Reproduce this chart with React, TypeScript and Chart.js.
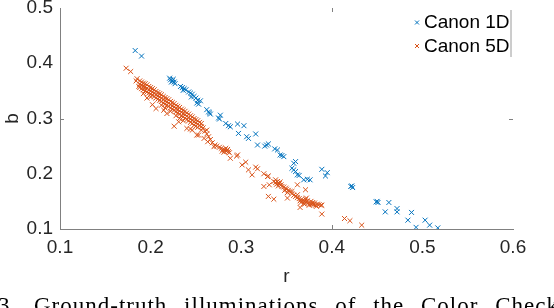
import React, { useEffect, useRef } from "react";
import { Chart, registerables } from "chart.js";

Chart.register(...registerables);

// ---- data (r, b) ----
const canon1D: number[][] = [
  [0.183, 0.423], [0.190, 0.413],
  [0.221, 0.373], [0.222, 0.370], [0.224, 0.368], [0.223, 0.366], [0.226, 0.366], [0.225, 0.371], [0.227, 0.363],
  [0.233, 0.358], [0.235, 0.356], [0.237, 0.354], [0.236, 0.351], [0.239, 0.352], [0.242, 0.348], [0.244, 0.346],
  [0.246, 0.344], [0.248, 0.340], [0.250, 0.337], [0.245, 0.339], [0.252, 0.333], [0.255, 0.332], [0.251, 0.328], [0.253, 0.326],
  [0.262, 0.316], [0.264, 0.312], [0.266, 0.308], [0.265, 0.310],
  [0.277, 0.306], [0.276, 0.299], [0.275, 0.301], [0.283, 0.291], [0.288, 0.285], [0.286, 0.287], [0.296, 0.290],
  [0.303, 0.287], [0.297, 0.273], [0.306, 0.267], [0.308, 0.264], [0.316, 0.272], [0.318, 0.252],
  [0.328, 0.252], [0.330, 0.254], [0.326, 0.250], [0.340, 0.243], [0.337, 0.245], [0.343, 0.234], [0.347, 0.231], [0.345, 0.233],
  [0.360, 0.222], [0.358, 0.219], [0.356, 0.210], [0.358, 0.207], [0.360, 0.204], [0.362, 0.198], [0.364, 0.197],
  [0.369, 0.189], [0.373, 0.190], [0.376, 0.189], [0.389, 0.208], [0.395, 0.202], [0.393, 0.196],
  [0.422, 0.178], [0.423, 0.175], [0.421, 0.177],
  [0.450, 0.150], [0.449, 0.149], [0.451, 0.148], [0.463, 0.148], [0.459, 0.131], [0.472, 0.137], [0.472, 0.131],
  [0.488, 0.130], [0.484, 0.116], [0.493, 0.103], [0.503, 0.116], [0.508, 0.107], [0.517, 0.102],
];

const canon5DHead: number[][] = [
  [0.173, 0.391], [0.178, 0.385], [0.185, 0.372], [0.187, 0.358], [0.184, 0.368],
];

const canon5DBand: number[][] = [
  [0.188, 0.368], [0.188, 0.362], [0.188, 0.356],
  [0.190, 0.366], [0.190, 0.360], [0.190, 0.354],
  [0.192, 0.364], [0.192, 0.358], [0.192, 0.352], [0.192, 0.345],
  [0.194, 0.363], [0.194, 0.357], [0.194, 0.350],
  [0.196, 0.361], [0.196, 0.355], [0.196, 0.348], [0.196, 0.337],
  [0.198, 0.358], [0.198, 0.352], [0.198, 0.346],
  [0.200, 0.356], [0.200, 0.350], [0.200, 0.344], [0.200, 0.339],
  [0.202, 0.354], [0.202, 0.348], [0.202, 0.342], [0.202, 0.325],
  [0.204, 0.352], [0.204, 0.346], [0.204, 0.340],
  [0.206, 0.349], [0.206, 0.343], [0.206, 0.337], [0.206, 0.318],
  [0.208, 0.347], [0.208, 0.341], [0.208, 0.335],
  [0.210, 0.345], [0.210, 0.339], [0.210, 0.333],
  [0.212, 0.343], [0.212, 0.337], [0.212, 0.331], [0.212, 0.324],
  [0.214, 0.340], [0.214, 0.334], [0.214, 0.328], [0.2145, 0.315],
  [0.216, 0.338], [0.216, 0.332], [0.216, 0.326], [0.216, 0.319],
  [0.218, 0.336], [0.218, 0.330], [0.218, 0.324], [0.218, 0.309],
  [0.220, 0.334], [0.220, 0.328], [0.220, 0.322],
  [0.222, 0.331], [0.222, 0.325], [0.222, 0.319], [0.222, 0.313],
  [0.224, 0.329], [0.224, 0.323], [0.224, 0.317],
  [0.226, 0.327], [0.226, 0.321], [0.226, 0.315], [0.226, 0.286],
  [0.228, 0.324], [0.228, 0.318], [0.228, 0.312], [0.228, 0.305],
  [0.230, 0.322], [0.230, 0.316], [0.230, 0.310], [0.231, 0.294],
  [0.232, 0.320], [0.232, 0.314], [0.232, 0.308], [0.232, 0.300],
  [0.234, 0.317], [0.234, 0.311], [0.234, 0.305],
  [0.236, 0.315], [0.236, 0.309], [0.236, 0.303], [0.236, 0.296],
  [0.238, 0.313], [0.238, 0.307], [0.238, 0.301],
  [0.240, 0.310], [0.240, 0.304], [0.240, 0.298], [0.240, 0.282],
  [0.242, 0.308], [0.242, 0.302], [0.242, 0.296],
  [0.244, 0.305], [0.244, 0.299], [0.244, 0.293], [0.244, 0.281], [0.246, 0.279],
  [0.246, 0.303], [0.246, 0.297], [0.246, 0.291],
  [0.248, 0.300], [0.248, 0.294], [0.248, 0.288],
  [0.250, 0.298], [0.250, 0.292], [0.250, 0.286], [0.251, 0.270],
  [0.252, 0.296], [0.252, 0.290], [0.252, 0.284],
  [0.254, 0.293], [0.254, 0.287], [0.253, 0.270],
  [0.256, 0.291], [0.256, 0.285], [0.256, 0.279],
];

const canon5DMid: number[][] = [
  [0.258, 0.283], [0.260, 0.277], [0.262, 0.279], [0.262, 0.272], [0.264, 0.267], [0.263, 0.258], [0.259, 0.264],
  [0.266, 0.262], [0.268, 0.256], [0.270, 0.249], [0.271, 0.252], [0.273, 0.250],
  [0.276, 0.248], [0.278, 0.246], [0.280, 0.244], [0.282, 0.243], [0.284, 0.241], [0.286, 0.240],
  [0.279, 0.241], [0.283, 0.246], [0.287, 0.238], [0.281, 0.239], [0.285, 0.244],
  [0.296, 0.234], [0.288, 0.228], [0.295, 0.232],
  [0.301, 0.216], [0.305, 0.221], [0.308, 0.207], [0.312, 0.198], [0.316, 0.212], [0.318, 0.209],
  [0.325, 0.200], [0.329, 0.195], [0.330, 0.196], [0.325, 0.177], [0.331, 0.180], [0.330, 0.159], [0.336, 0.154],
  [0.338, 0.189], [0.341, 0.183],
  [0.336, 0.186], [0.338, 0.184], [0.340, 0.186], [0.342, 0.182], [0.344, 0.180], [0.339, 0.181],
  [0.341, 0.178], [0.343, 0.185], [0.345, 0.177],
  [0.349, 0.174], [0.351, 0.156], [0.356, 0.168], [0.362, 0.180], [0.362, 0.162], [0.371, 0.171],
  [0.347, 0.176], [0.350, 0.172], [0.352, 0.170], [0.354, 0.168], [0.348, 0.170], [0.351, 0.166],
  [0.356, 0.164], [0.358, 0.161], [0.360, 0.159],
];

const canon5DTail: number[][] = [
  [0.362, 0.157], [0.364, 0.155], [0.366, 0.153], [0.368, 0.152], [0.370, 0.150], [0.372, 0.149],
  [0.374, 0.147], [0.376, 0.146], [0.378, 0.145], [0.380, 0.144], [0.382, 0.143], [0.366, 0.148],
  [0.369, 0.146], [0.371, 0.154], [0.373, 0.151], [0.375, 0.143], [0.377, 0.150], [0.379, 0.148],
  [0.381, 0.147], [0.384, 0.145], [0.386, 0.144], [0.388, 0.143], [0.370, 0.145], [0.372, 0.156],
  [0.365, 0.151], [0.383, 0.141],
  [0.365, 0.139], [0.389, 0.143], [0.389, 0.127], [0.414, 0.119], [0.420, 0.115], [0.433, 0.107],
];

const canon5D: number[][] = [...canon5DHead, ...canon5DBand, ...canon5DMid, ...canon5DTail];

const seriesNames = ["Canon 1D", "Canon 5D"];
const seriesColors = ["#0072BD", "#D95319"];
const xTicks = [0.1, 0.2, 0.3, 0.4, 0.5, 0.6];
const yTicks = [0.1, 0.2, 0.3, 0.4, 0.5];
const xLabel = "r";
const yLabel = "b";
const caption = "3. Ground-truth illuminations of the Color Checker dataset";

const FONT = "'Liberation Sans', Arial, sans-serif";

const extrasPlugin = {
  id: "extras",
  afterDraw(chart: any) {
    const { ctx, chartArea, scales } = chart;
    const xs = scales.x;
    const ys = scales.y;
    ctx.save();
    // inner tick marks visible in the reference
    ctx.strokeStyle = "#808080";
    ctx.lineWidth = 1;
    const px = Math.round(xs.getPixelForValue(xTicks[3])) + 0.5;
    const py = Math.round(ys.getPixelForValue(yTicks[2])) + 0.5;
    ctx.beginPath();
    ctx.moveTo(px, chartArea.bottom);
    ctx.lineTo(px, chartArea.bottom - 4);
    ctx.moveTo(px, chartArea.top);
    ctx.lineTo(px, chartArea.top + 4);
    ctx.moveTo(chartArea.left, py);
    ctx.lineTo(chartArea.left + 4, py);
    ctx.moveTo(chartArea.right, py);
    ctx.lineTo(chartArea.right - 4, py);
    ctx.stroke();

    // legend
    const lx = chartArea.right - 96;
    const rows = [chartArea.top + 14.5, chartArea.top + 38];
    ctx.font = `19px ${FONT}`;
    ctx.textBaseline = "middle";
    ctx.textAlign = "left";
    chart.data.datasets.forEach((ds: any, i: number) => {
      const y = rows[i];
      ctx.strokeStyle = ds.borderColor;
      ctx.beginPath();
      ctx.moveTo(lx - 2, y - 2);
      ctx.lineTo(lx + 2, y + 2);
      ctx.moveTo(lx - 2, y + 2);
      ctx.lineTo(lx + 2, y - 2);
      ctx.stroke();
      ctx.fillStyle = "#000";
      ctx.fillText(ds.label, lx + 7, y + 0.5);
    });
    ctx.strokeStyle = "#9a9a9a";
    ctx.beginPath();
    ctx.moveTo(chartArea.right - 2, chartArea.top + 2);
    ctx.lineTo(chartArea.right - 2, chartArea.top + 49);
    ctx.stroke();
    ctx.restore();
  },
};

export default function App() {
  const ref = useRef<HTMLCanvasElement | null>(null);
  useEffect(() => {
    if (!ref.current) return;
    const toPts = (a: number[][]) => a.map(([x, y]) => ({ x, y }));
    const chart = new Chart(ref.current, {
      type: "scatter",
      data: {
        datasets: [
          {
            label: seriesNames[0],
            data: toPts(canon1D),
            borderColor: seriesColors[0],
            backgroundColor: seriesColors[0],
            pointStyle: "crossRot",
            pointRadius: 3.5,
            pointBorderWidth: 1,
            order: 2,
          },
          {
            label: seriesNames[1],
            data: toPts(canon5D),
            borderColor: seriesColors[1],
            backgroundColor: seriesColors[1],
            pointStyle: "crossRot",
            pointRadius: 3.5,
            pointBorderWidth: 1,
            order: 1,
          },
        ],
      },
      options: {
        animation: false,
        responsive: false,
        devicePixelRatio: 1,
        layout: { padding: { top: 8, right: 41, left: 0, bottom: 0 } },
        plugins: { legend: { display: false }, tooltip: { enabled: false } },
        scales: {
          x: {
            type: "linear",
            min: xTicks[0],
            max: xTicks[xTicks.length - 1],
            afterBuildTicks: (s: any) => {
              s.ticks = xTicks.map((v) => ({ value: v }));
            },
            afterFit: (s: any) => {
              s.height = 79;
              s.paddingLeft = 0;
              s.paddingRight = 0;
            },
            grid: { display: false, drawTicks: false },
            border: { display: true, color: "#808080", width: 1 },
            ticks: {
              padding: 7,
              color: "#262626",
              font: { family: FONT, size: 19 },
              maxRotation: 0,
              autoSkip: false,
              callback: (v: any) => Number(v).toFixed(1),
            },
            title: {
              display: true,
              text: xLabel,
              color: "#262626",
              font: { family: FONT, size: 19 },
              padding: { top: 0, bottom: 20 },
            },
          },
          y: {
            type: "linear",
            min: yTicks[0],
            max: yTicks[yTicks.length - 1],
            afterBuildTicks: (s: any) => {
              s.ticks = yTicks.map((v) => ({ value: v }));
            },
            afterFit: (s: any) => {
              s.width = 60;
              s.paddingTop = 0;
              s.paddingBottom = 0;
            },
            grid: { display: false, drawTicks: false },
            border: { display: true, color: "#808080", width: 1 },
            ticks: {
              padding: 7,
              color: "#262626",
              font: { family: FONT, size: 19 },
              autoSkip: false,
              callback: (v: any) => Number(v).toFixed(1),
            },
            title: {
              display: true,
              text: yLabel,
              color: "#262626",
              font: { family: FONT, size: 19 },
              padding: { top: 1, bottom: 0 },
            },
          },
        },
      },
      plugins: [extrasPlugin],
    });
    return () => chart.destroy();
  }, []);

  return (
    <div
      style={{
        position: "fixed",
        left: 0,
        top: 0,
        width: 554,
        height: 308,
        overflow: "hidden",
        background: "#fff",
      }}
    >
      <canvas ref={ref} width={554} height={308} style={{ position: "absolute", left: 0, top: 0 }} />
      <div
        style={{
          position: "absolute",
          left: -2,
          top: 294,
          font: "23px 'Liberation Serif', 'Times New Roman', serif",
          whiteSpace: "nowrap",
          letterSpacing: 1,
          wordSpacing: 10,
          color: "#000",
          lineHeight: "23px",
        }}
      >
        {caption}
      </div>
    </div>
  );
}
